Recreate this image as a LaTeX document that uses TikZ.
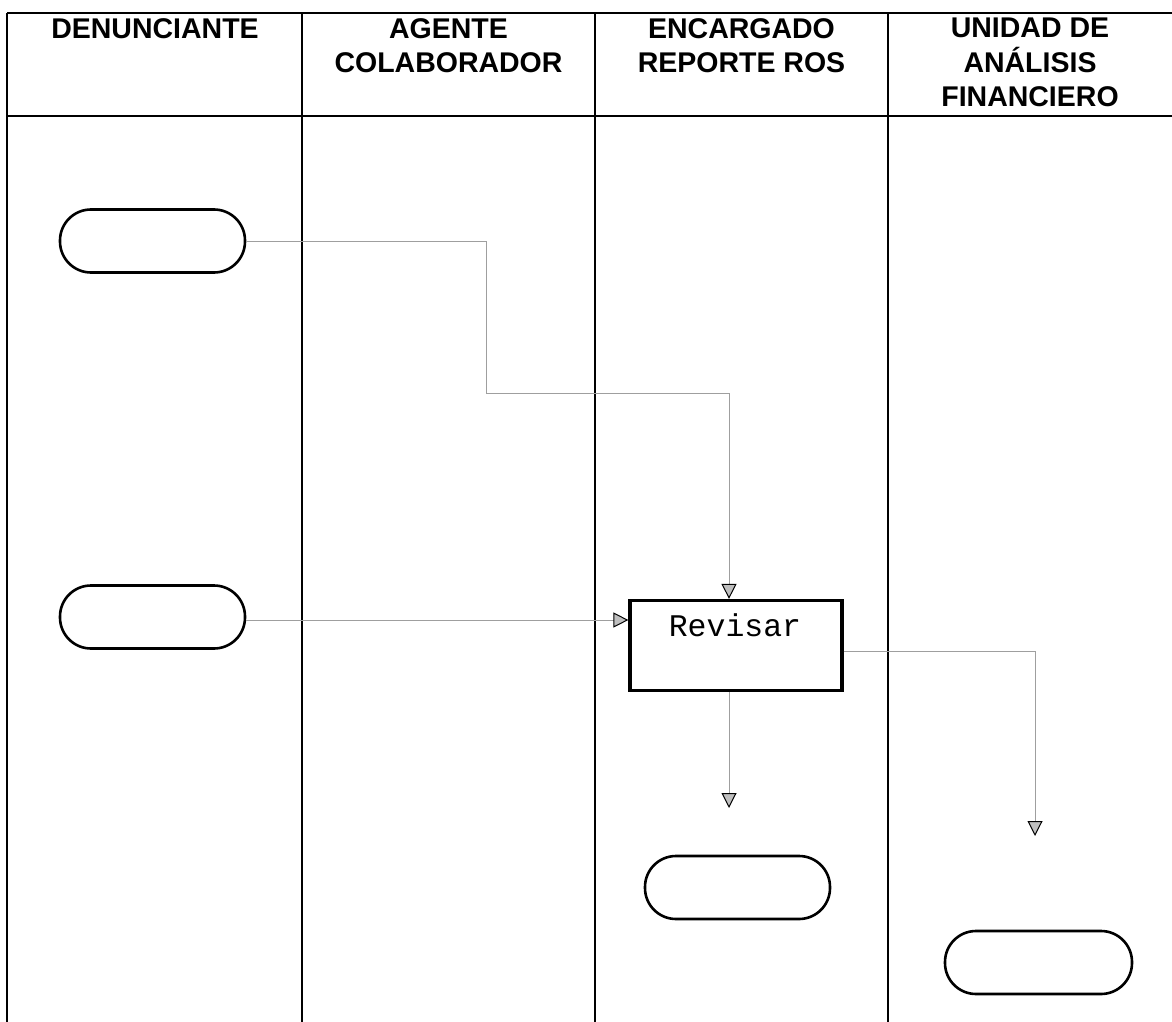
\documentclass[tikz,border=0pt]{standalone}
\usepackage{fontspec}
\setmainfont{Liberation Sans}
\newfontfamily\monof{Liberation Mono}
\usetikzlibrary{arrows.meta}
\begin{document}
\begin{tikzpicture}[x=1pt,y=-1pt,
  grid/.style={line width=1.8pt,black},
  hdr/.style={font=\fontsize{28.5}{34.5}\selectfont\bfseries,align=center,anchor=north,inner sep=0pt},
  term/.style={draw,line width=2.6pt,minimum width=185pt,minimum height=63pt,rounded corners=31pt,inner sep=0pt},
  proc/.style={draw,line width=3.2pt,minimum width=212pt,minimum height=90pt,inner sep=0pt},
  conn/.style={draw=gray!75,line width=0.9pt},
  tip/.style={-{Triangle[width=15pt,length=15pt,color=black,fill=gray!50,line width=1pt]}}
]
\useasboundingbox (0,0) rectangle (1172,1022);
% table
\draw[grid] (7,13) -- (1172,13);
\draw[grid] (7,116) -- (1172,116);
\foreach \x in {7,302,595,888} \draw[grid] (\x,13) -- (\x,1022);
% headers
\node[hdr] (h1) at (155,18) {DENUNCIANTE};
\node[hdr] (h2) at (448.5,18) {AGENTE\\COLABORADOR};
\node[hdr] (h3) at (741.5,18) {ENCARGADO\\REPORTE ROS};
\node[hdr] (h4) at (1030,18) {UNIDAD DE\\ANÁLISIS\\FINANCIERO};
% shapes
\node[term] (t1) at (152.5,241) {};
\node[term] (t2) at (152.5,617) {};
\node[proc] (box) at (736,645.5) {};
\node[font=\monof\fontsize{31.5}{31.5}\selectfont,anchor=base] (lbl) at (735,636) {Revisar};
\node[term] (t3) at (737.5,887.5) {};
\node[term,minimum width=187pt] (t4) at (1038.5,962.5) {};
% connectors
\coordinate (b1) at (486,393);
\coordinate (e3) at (729,808);
\coordinate (e4) at (1035,836);
\draw[conn,tip] (t1.east) -| (b1) -| ([xshift=-7pt]box.north);
\draw[conn,tip] ([yshift=-3pt]t2.east) -- ([yshift=-3pt]t2.east -| box.west);
\draw[conn,tip] ([yshift=-5.5pt]box.east) -| (e4);
\draw[conn,tip] ([xshift=-7pt]box.south) -- (e3);
\end{tikzpicture}
\end{document}
